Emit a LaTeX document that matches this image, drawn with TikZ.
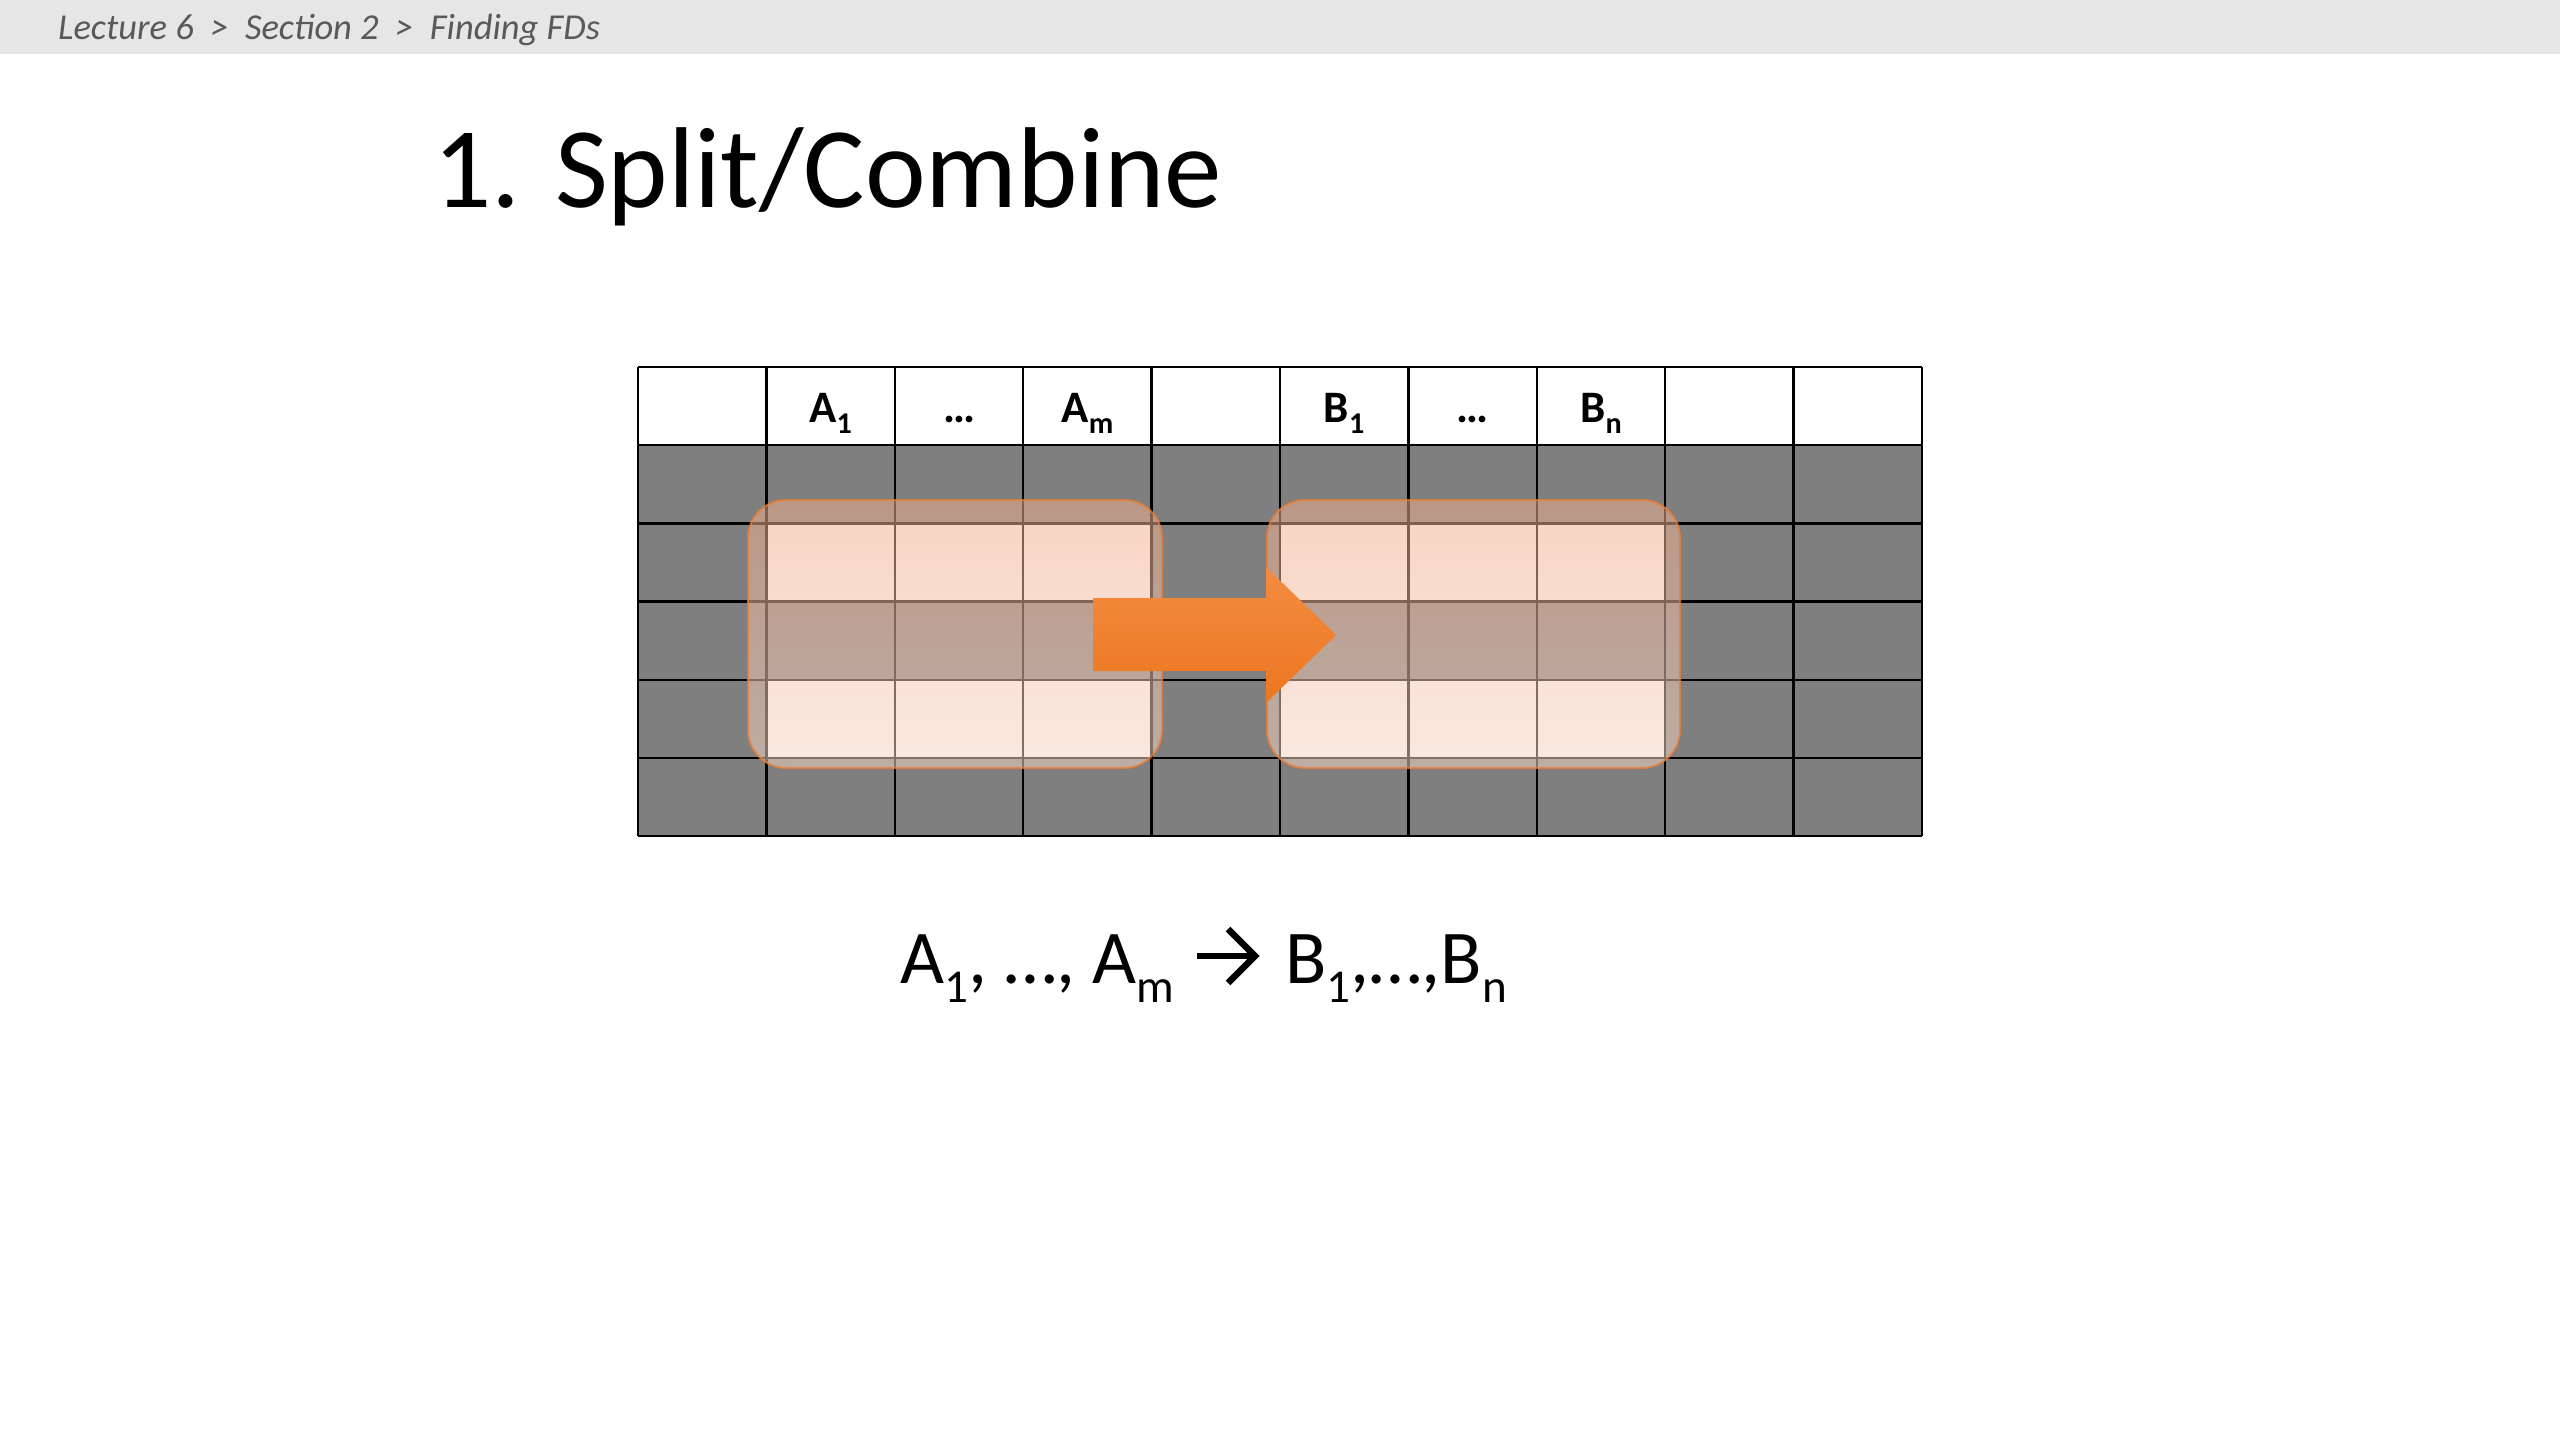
\documentclass[tikz,border=0pt]{standalone}
\usepackage{fontspec}
\setmainfont{Carlito}
\usepackage{graphicx}
\definecolor{barbg}{RGB}{231,230,230}
\definecolor{crumb}{RGB}{89,89,89}
\definecolor{cellgray}{RGB}{127,127,127}
\definecolor{boxtop}{RGB}{241,175,141}
\definecolor{boxbot}{RGB}{245,215,200}
\definecolor{boxedge}{RGB}{237,125,49}
\definecolor{arrtop}{RGB}{242,140,66}
\definecolor{arrbot}{RGB}{237,118,32}
\newcommand\sbx[1]{\raisebox{-0.25em}{\scalebox{0.67}{#1}}}
\newcommand\sbf[1]{\raisebox{-0.25em}{\scalebox{0.62}{#1}}}
\tikzset{
  hdr/.style={anchor=base, inner sep=0pt, font=\fontsize{45}{50}\selectfont\bfseries},
  gridline/.style={line width=2.5pt, black},
  selbox/.style={top color=boxtop, bottom color=boxbot, fill opacity=0.53,
                 draw=boxedge, draw opacity=0.75, line width=2pt, rounded corners=38pt},
  fdtext/.style={anchor=base west, inner sep=0pt, font=\fontsize{76}{90}\selectfont},
}
\begin{document}
\begin{tikzpicture}[x=1pt,y=-1pt]
\useasboundingbox (0,0) rectangle (2560,1440);
\fill[white] (0,0) rectangle (2560,1440);
\fill[barbg] (0,0) rectangle (2560,54);
\node[anchor=base west, text=crumb, inner sep=0pt, font=\fontsize{36.5}{40}\selectfont\itshape] (crumb) at (58,39) {Lecture 6 \ > \ Section 2 \ > \ Finding FDs};
\node[anchor=base west, inner sep=0pt, font=\fontsize{115}{130}\selectfont] (title) at (433,207) {1. Split/Combine};
% table cells
\foreach \i in {0,...,9} {
  \foreach \j in {1,...,5} {
    \fill[cellgray] ({638+\i*128.4},{367+\j*78.2}) rectangle ({638+(\i+1)*128.4},{367+(\j+1)*78.2});
  }
}
\foreach \i in {1,2,3,5,6,7} {
  \foreach \j in {2,4} {
    \fill[white] ({638+\i*128.4},{367+\j*78.2}) rectangle ({638+(\i+1)*128.4},{367+(\j+1)*78.2});
  }
}
\foreach \i in {0,...,10} {
  \draw[gridline] ({638+\i*128.4},367) -- ({638+\i*128.4},836.2);
}
\foreach \j in {0,...,6} {
  \draw[gridline] (638,{367+\j*78.2}) -- (1922,{367+\j*78.2});
}
% header labels
\node[hdr] (ha1) at ({638+1.5*128.4},422) {A\sbx{1}};
\node[hdr] (hd1) at ({638+2.5*128.4},422) {…};
\node[hdr] (ham) at ({638+3.5*128.4},422) {A\sbx{m}};
\node[hdr] (hb1) at ({638+5.5*128.4},422) {B\sbx{1}};
\node[hdr] (hd2) at ({638+6.5*128.4},422) {…};
\node[hdr] (hbn) at ({638+7.5*128.4},422) {B\sbx{n}};
% highlight boxes
\path[selbox] (748,500) rectangle (1162,768);
\path[selbox] (1267,500) rectangle (1680,768);
% block arrow
\path[top color=arrtop, bottom color=arrbot]
  (1093,598) -- (1266,598) -- (1266,567) -- (1336,635) -- (1266,703) -- (1266,671) -- (1093,671) -- cycle;
% formula
\node[fdtext] (lhs) at (900,983) {A\sbf{1}, …, A\sbf{m}};
\node[fdtext] (rhs) at (1285,983) {B\sbf{1},…,B\sbf{n}};
\coordinate (fa0) at (1197,956);
\coordinate (fa1) at (1253,956);
\coordinate (fb0) at (1228,929);
\coordinate (fb1) at (1255,956);
\coordinate (fb2) at (1228,983);
\draw[line width=6.5pt] (fa0) -- (fa1);
\draw[line width=6.5pt] (fb0) -- (fb1) -- (fb2);
\end{tikzpicture}
\end{document}
